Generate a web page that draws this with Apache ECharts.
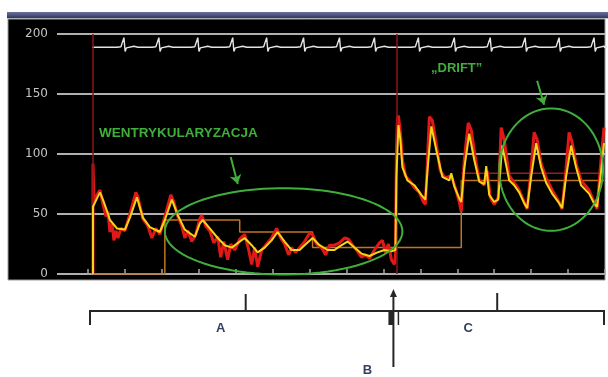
<!DOCTYPE html>
<html>
<head>
<meta charset="utf-8">
<script src="https://cdn.jsdelivr.net/npm/echarts@6/dist/echarts.min.js"></script>
<style>
  html, body { margin: 0; padding: 0; background: #fff; }
  #chart { width: 608px; height: 377px; }
</style>
</head>
<body>
<div id="chart"></div>
<script>
// x = samples from the first tick (37 samples per tick), y = pressure
const yTicks = [0, 50, 100, 150, 200];

// raw pressure trace (red)
const rawPressure = [
  [5, 0], [5, 92], [6, 60], [9, 66], [12, 70], [15, 58], [18, 48], [20, 52], [22, 35], [24, 42], [26, 28],
  [28, 36], [30, 30], [33, 38], [37, 36], [42, 50], [48, 68], [50, 64], [55, 46], [60, 40], [64, 30],
  [68, 38], [72, 33], [77, 48], [83, 66], [86, 60], [90, 48], [94, 40], [97, 30], [100, 36], [104, 27],
  [108, 33], [112, 46], [114, 49], [118, 40], [122, 36], [126, 26], [130, 31], [133, 14], [136, 27],
  [140, 12], [143, 25], [147, 20], [152, 29], [157, 33], [161, 20], [164, 8], [167, 22], [170, 6],
  [174, 20], [178, 24], [184, 30], [189, 38], [193, 30], [197, 25], [201, 16], [204, 22], [208, 18],
  [212, 22], [217, 27], [222, 34], [225, 33], [229, 25], [234, 22], [238, 16], [242, 24], [247, 24],
  [252, 26], [257, 30], [261, 29], [265, 24], [270, 19], [274, 14], [278, 16], [282, 13], [287, 20],
  [292, 26], [295, 28], [298, 18], [301, 25], [304, 12], [307, 8], [308, 14],
  [309, 100], [310, 130], [311, 132], [313, 118], [315, 95], [318, 82], [322, 78], [327, 72], [332, 68],
  [336, 60], [338, 58], [340, 92], [342, 131], [345, 128], [349, 108], [353, 86], [358, 80], [364, 82],
  [368, 72], [372, 60], [374, 52], [377, 95], [381, 126], [384, 120], [388, 97], [392, 78], [397, 74],
  [400, 86], [403, 64], [407, 58], [411, 64], [414, 122], [417, 112], [422, 82], [427, 76], [432, 70],
  [437, 60], [440, 54], [444, 88], [447, 118], [450, 112], [454, 92], [459, 80], [465, 70], [472, 60],
  [475, 54], [479, 88], [482, 118], [485, 110], [489, 92], [494, 78], [502, 70], [507, 60], [510, 54],
  [514, 95], [517, 122]
];

// filtered pressure trace (yellow)
const filteredPressure = [
  [5, 0], [5, 56], [9, 63], [12, 68], [15, 62], [18, 55], [22, 45], [29, 38], [37, 37], [42, 47], [49, 64],
  [55, 47], [62, 39], [72, 35], [77, 45], [84, 62], [90, 49], [97, 37], [107, 31], [112, 42], [115, 45],
  [122, 38], [130, 30], [137, 24], [144, 22], [152, 27], [157, 30], [164, 24], [170, 18], [177, 22],
  [184, 28], [190, 35], [197, 27], [204, 20], [212, 20], [217, 24], [225, 30], [232, 24], [240, 20],
  [247, 20], [252, 23], [260, 27], [267, 22], [274, 17], [282, 15], [290, 18], [297, 20], [304, 19], [308, 20],
  [309, 80], [311, 124], [313, 112], [315, 89], [320, 78], [327, 74], [334, 66], [338, 62], [340, 85],
  [344, 123], [349, 103], [355, 81], [362, 78], [364, 84], [367, 73], [372, 63], [374, 60], [377, 88],
  [382, 117], [387, 95], [392, 77], [397, 75], [399, 90], [402, 66], [407, 60], [411, 62], [415, 107],
  [422, 78], [427, 74], [432, 68], [437, 59], [440, 55], [444, 81], [449, 109], [454, 89], [459, 76],
  [465, 67], [472, 59], [475, 55], [479, 81], [484, 107], [489, 89], [494, 74], [502, 67], [507, 59],
  [510, 56], [514, 85], [517, 109]
];

// stepped mean pressure (orange)
const meanSteps = [
  [5, 0], [77, 0], [77, 45], [152, 45], [152, 35], [225, 35], [225, 22], [374, 22], [374, 78], [517, 78]
];
const driftLevel = [[374, 84], [517, 84]];

// ECG strip: beat positions + beat shape (offset, change from baseline)
const ecgBaseline = 189;
const ecgBeats = [36, 71, 110, 145, 179, 216, 252, 287, 331, 367, 403, 438, 472, 507];
const ecgShape = [[-7, 0], [-5, 1], [-3, 0.4], [-1, 0], [0, 8], [1.2, -3.5], [2.5, -0.6], [4, 0], [10, 0.8], [14, 0]];

const phaseMarks = [5, 309];
const phaseEdges = [2, 303, 311, 517];
const phaseTicks = [158, 410];
const phaseLabels = [['A', 133, 328], ['B', 280, 370], ['C', 381, 328]];

// circled regions: centre x, centre y, radius x, radius y
const circledRegions = [[196, 35.5, 119, 36], [464, 87, 52, 51]];
const arrows = [[[143, 97.5], [150, 75]], [[450, 161], [457, 141]]];

const ecgLine = [[4, ecgBaseline]];
ecgBeats.forEach(b => ecgShape.forEach(([dx, dv]) => ecgLine.push([b + dx, ecgBaseline + dv])));
ecgLine.push([517, ecgBaseline]);

const green = '#3fae3a';
const chart = echarts.init(document.getElementById('chart'));

const option = {
  animation: false,
  backgroundColor: '#fff',
  grid: [
    { left: 57, right: 3, top: 34, bottom: 103 },
    { left: 88, right: 3, top: 34, bottom: 103 }
  ],
  xAxis: [
    { gridIndex: 0, type: 'value', min: 0, max: 1, show: false },
    {
      gridIndex: 1, type: 'value', min: 0, max: 518, interval: 37,
      axisLine: { show: true, lineStyle: { color: '#aaaaaa', width: 2 } },
      axisTick: { show: true, inside: true, length: 5, lineStyle: { color: '#a8a8a8', width: 1.5 } },
      axisLabel: { show: false },
      splitLine: { show: false }
    }
  ],
  yAxis: [
    {
      gridIndex: 0, type: 'value', min: 0, max: 200, interval: 50,
      axisLine: { show: false },
      axisTick: { show: false },
      axisLabel: {
        margin: 9, color: '#c4c4c4', fontSize: 12, fontFamily: 'DejaVu Sans',
        formatter: v => (yTicks.includes(v) ? String(v) : '')
      },
      splitLine: { lineStyle: { color: '#b0b0b0', width: 2 } }
    },
    { gridIndex: 1, type: 'value', min: 0, max: 200, show: false }
  ],
  series: [
    {
      name: 'ECG', type: 'line', xAxisIndex: 1, yAxisIndex: 1, z: 2,
      data: ecgLine, showSymbol: false, silent: true,
      lineStyle: { color: '#e4e4e4', width: 1.4 },
      markLine: {
        silent: true, symbol: 'none', label: { show: false },
        lineStyle: { color: '#8c1515', width: 1.5, type: 'solid' },
        data: phaseMarks.map(x => ({ xAxis: x }))
      }
    },
    {
      name: 'Mean', type: 'line', xAxisIndex: 1, yAxisIndex: 1, z: 3,
      data: meanSteps, showSymbol: false,
      lineStyle: { color: '#c27420', width: 1.5 }
    },
    {
      name: 'Drift', type: 'line', xAxisIndex: 1, yAxisIndex: 1, z: 3,
      data: driftLevel, showSymbol: false,
      lineStyle: { color: '#9a1c1c', width: 1.5 }
    },
    {
      name: 'Raw', type: 'line', xAxisIndex: 1, yAxisIndex: 1, z: 4,
      data: rawPressure, showSymbol: false,
      lineStyle: { color: '#e01818', width: 3 }
    },
    {
      name: 'Filtered', type: 'line', xAxisIndex: 1, yAxisIndex: 1, z: 5,
      data: filteredPressure, showSymbol: false,
      lineStyle: { color: '#f5d516', width: 2 }
    },
    {
      name: 'Regions', type: 'custom', xAxisIndex: 1, yAxisIndex: 1, z: 6, clip: false,
      data: circledRegions,
      renderItem(params, api) {
        const c = api.coord([api.value(0), api.value(1)]);
        const s = api.size([api.value(2), api.value(3)]);
        const pts = [];
        for (let i = 0; i <= 90; i++) {
          const a = (i / 90) * Math.PI * 2;
          pts.push([c[0] + s[0] * Math.cos(a), c[1] + s[1] * Math.sin(a)]);
        }
        return { type: 'polygon', shape: { points: pts }, style: { fill: 'none', stroke: green, lineWidth: 2 } };
      },
      markLine: {
        silent: true, symbol: ['none', 'arrow'], symbolSize: 9, label: { show: false },
        lineStyle: { color: green, width: 2, type: 'solid' },
        data: arrows.map(([a, b]) => [{ coord: a }, { coord: b }])
      }
    }
  ]
};
chart.setOption(option);

const px = x => chart.convertToPixel({ xAxisIndex: 1 }, x);
const ink = '#262626';
const seg = (x1, y1, x2, y2, w) => ({
  type: 'line', shape: { x1, y1, x2, y2 }, style: { stroke: ink, lineWidth: w || 2 }
});
const bx = px(phaseEdges[1]);
const arrowX = px(306);

chart.setOption({
  graphic: [
    {
      type: 'rect', z: -10, shape: { x: 7, y: 12, width: 601, height: 6 },
      style: {
        fill: new echarts.graphic.LinearGradient(0, 0, 0, 1, [
          { offset: 0, color: '#6a72a0' }, { offset: 1, color: '#2e3762' }
        ])
      }
    },
    { type: 'rect', z: -10, shape: { x: 7, y: 18, width: 601, height: 1 }, style: { fill: '#c8c8c8' } },
    { type: 'rect', z: -10, shape: { x: 8, y: 19, width: 597, height: 261 }, style: { fill: '#000', stroke: '#9a9a9a', lineWidth: 1 } },
    {
      type: 'text', z: 10, style: {
        text: 'WENTRYKULARYZACJA', x: 99, y: 133, fill: green,
        font: 'bold 13.5px "Liberation Sans"', textVerticalAlign: 'middle'
      }
    },
    {
      type: 'text', z: 10, style: {
        text: '\u201EDRIFT\u201D', x: 431, y: 68, fill: green,
        font: 'bold 13px "Liberation Sans"', textVerticalAlign: 'middle'
      }
    },
    seg(px(phaseEdges[0]), 311, px(phaseEdges[3]), 311),
    seg(px(phaseEdges[0]), 310, px(phaseEdges[0]), 325),
    seg(px(phaseEdges[3]), 310, px(phaseEdges[3]), 325),
    seg(px(phaseTicks[0]), 294, px(phaseTicks[0]), 311),
    seg(px(phaseTicks[1]), 293, px(phaseTicks[1]), 311),
    { type: 'rect', shape: { x: bx - 2, y: 311, width: 5, height: 14 }, style: { fill: ink } },
    seg(px(phaseEdges[2]), 311, px(phaseEdges[2]), 325, 1.5),
    seg(arrowX, 367, arrowX, 296, 2),
    { type: 'polygon', shape: { points: [[arrowX - 3.5, 297], [arrowX + 3.5, 297], [arrowX, 289]] }, style: { fill: ink } },
    ...phaseLabels.map(([t, x, y]) => ({
      type: 'text', style: {
        text: t, x: px(x), y, fill: '#34405e', font: 'bold 13px "Liberation Sans"',
        textAlign: 'center', textVerticalAlign: 'middle'
      }
    }))
  ]
});
</script>
</body>
</html>
